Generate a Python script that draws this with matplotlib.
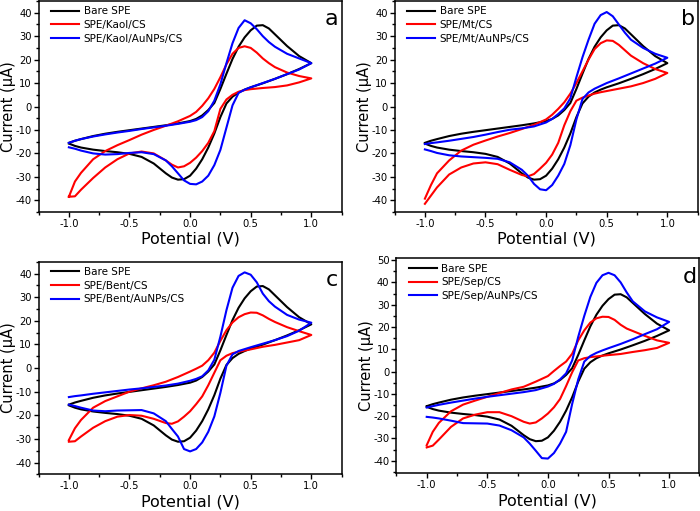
import matplotlib
matplotlib.use("Agg")
import matplotlib.pyplot as plt
from matplotlib.ticker import MultipleLocator

plt.rcParams['font.family'] = ['DejaVu Sans']
plt.rcParams['axes.unicode_minus'] = False

# potential grids (V): forward scan -1 -> 1, reverse scan 1 -> -1
E_FWD = [-1.0, -0.95, -0.9, -0.8, -0.7, -0.6, -0.5, -0.4, -0.3, -0.2, -0.1, 0.0,
         0.05, 0.1, 0.15, 0.2, 0.25, 0.3, 0.35, 0.4, 0.45, 0.5, 0.55, 0.6, 0.65,
         0.7, 0.8, 0.9, 1.0]
E_REV = [1.0, 0.9, 0.8, 0.7, 0.6, 0.5, 0.45, 0.4, 0.35, 0.3, 0.25, 0.2, 0.15, 0.1,
         0.05, 0.0, -0.05, -0.1, -0.15, -0.2, -0.3, -0.4, -0.5, -0.6, -0.7, -0.8,
         -0.9, -0.95, -1.0]

# currents (uA)
BARE_FWD = [-15.5, -14.6, -13.9, -12.6, -11.6, -10.8, -10.1, -9.4, -8.7, -8.0, -7.2, -6.2,
            -5.3, -3.8, -1.5, 1.5, 7.5, 14.0, 20.3, 25.5, 29.5, 32.5, 34.5, 34.7, 33.3,
            30.8, 25.8, 21.5, 18.5]
BARE_REV = [18.5, 16.0, 13.8, 11.8, 9.9, 8.2, 7.2, 6.0, 4.2, 1.3, -4.5, -11.5, -17.5, -22.5,
            -26.5, -29.5, -31.0, -31.2, -30.3, -28.5, -24.3, -21.5, -20.2, -19.5, -19.0, -18.4,
            -17.5, -16.8, -15.8]

KAOL_FWD = [-38.5, -32.0, -28.3, -22.5, -19.0, -16.5, -14.3, -12.0, -10.0, -8.2, -6.3, -4.0,
            -2.3, 0.3, 3.5, 7.5, 12.5, 18.0, 22.5, 25.0, 25.7, 25.0, 23.0, 20.5, 18.5,
            16.8, 14.5, 13.0, 12.0]
KAOL_REV = [12.0, 10.3, 9.0, 8.3, 7.9, 7.4, 7.0, 6.3, 5.0, 3.0, -1.0, -10.5, -15.5, -19.0,
            -21.8, -24.0, -25.5, -26.0, -24.8, -23.0, -20.0, -19.2, -20.0, -22.5, -26.0, -30.5,
            -35.5, -38.3, -38.5]
KAOL_AU_FWD = [-15.5, -14.6, -13.9, -12.8, -11.9, -11.1, -10.4, -9.6, -8.9, -8.2, -7.4, -6.5,
               -5.8, -4.5, -2.0, 2.5, 9.5, 18.5, 27.0, 33.5, 36.8, 35.5, 33.0, 30.0, 27.5,
               25.5, 22.5, 20.5, 18.5]
KAOL_AU_REV = [18.5, 15.8, 13.8, 11.8, 10.0, 8.2, 7.2, 5.8, 0.5, -9.0, -18.5, -25.0, -29.5,
               -32.0, -33.2, -33.0, -31.5, -28.5, -25.5, -23.0, -20.3, -19.5, -19.8, -20.3,
               -20.5, -20.0, -18.8, -18.0, -17.4]

MT_FWD = [-39.3, -33.5, -28.5, -23.0, -18.8, -16.3, -14.5, -12.8, -11.3, -9.6, -7.8, -5.5,
          -3.5, -1.0, 1.8, 5.5, 10.0, 15.0, 20.0, 24.5, 27.0, 28.2, 28.0, 26.3, 24.0,
          21.7, 18.5, 16.0, 14.3]
MT_REV = [14.3, 11.8, 10.0, 8.6, 7.6, 6.6, 6.1, 5.5, 4.7, 3.8, 2.5, -2.0, -8.0, -15.5,
          -20.5, -24.0, -26.5, -28.8, -29.8, -29.2, -27.0, -24.6, -23.8, -24.3, -26.0, -29.0,
          -34.5, -38.0, -41.5]
MT_AU_FWD = [-16.0, -15.6, -15.3, -14.6, -13.8, -13.0, -12.0, -10.9, -9.9, -9.3, -8.5, -6.8,
             -5.3, -3.2, -0.8, 3.5, 12.5, 21.0, 28.5, 35.3, 39.0, 40.3, 38.5, 35.0, 31.5,
             28.5, 25.0, 22.5, 20.8]
MT_AU_REV = [20.8, 18.3, 16.2, 14.1, 12.0, 10.0, 8.8, 7.6, 6.0, 3.2, -5.5, -16.5, -24.5, -29.5,
             -33.5, -35.7, -35.3, -33.0, -29.5, -27.0, -23.8, -22.3, -21.9, -21.6, -21.3, -20.8,
             -19.8, -19.0, -18.3]

BENT_FWD = [-30.5, -25.5, -22.0, -16.8, -14.0, -12.0, -10.0, -8.6, -7.3, -5.8, -3.8, -1.5,
            -0.3, 1.0, 3.3, 6.5, 11.5, 16.0, 19.3, 21.5, 22.8, 23.5, 23.4, 22.3, 20.8,
            19.5, 17.3, 15.6, 14.0]
BENT_REV = [14.0, 11.8, 10.8, 9.8, 9.0, 7.9, 7.4, 6.9, 6.3, 5.2, 3.3, -2.0, -7.3, -12.0,
            -15.3, -18.3, -20.6, -22.6, -23.6, -23.3, -21.5, -20.2, -19.9, -20.6, -22.5, -25.3,
            -29.0, -31.0, -31.2]
BENT_AU_FWD = [-12.3, -11.9, -11.6, -10.9, -10.3, -9.7, -9.1, -8.6, -8.0, -7.4, -6.6, -5.4,
               -4.6, -3.5, -1.0, 3.5, 13.3, 24.5, 34.0, 39.0, 40.5, 39.5, 36.3, 31.5, 28.3,
               26.0, 22.5, 20.5, 19.2]
BENT_AU_REV = [19.2, 15.8, 13.5, 11.8, 10.3, 8.8, 8.0, 7.2, 5.8, 1.0, -10.5, -20.5, -27.0,
               -31.5, -34.3, -35.3, -34.3, -29.0, -25.8, -22.5, -19.2, -17.8, -17.9, -18.0,
               -18.3, -18.0, -16.8, -16.1, -15.5]

SEP_FWD = [-33.0, -27.0, -23.0, -17.8, -14.8, -13.0, -11.3, -9.6, -8.0, -6.8, -4.5, -2.0,
           0.3, 2.5, 4.5, 8.0, 14.0, 18.5, 22.0, 23.9, 24.6, 24.5, 23.2, 21.0, 19.3,
           18.2, 16.0, 14.0, 12.9]
SEP_REV = [12.9, 10.6, 9.6, 8.8, 7.9, 7.4, 7.1, 6.8, 6.5, 6.0, 5.0, -0.3, -6.5, -12.3,
           -16.0, -18.8, -21.0, -22.8, -23.3, -22.5, -20.0, -18.2, -18.2, -19.3, -21.0, -24.8,
           -30.5, -33.2, -34.0]
SEP_AU_FWD = [-16.1, -15.5, -14.9, -13.9, -13.0, -12.1, -11.3, -10.6, -9.9, -9.2, -8.3, -6.7,
              -5.5, -3.5, -0.8, 5.0, 15.6, 25.0, 33.5, 39.8, 43.2, 44.3, 43.2, 40.0, 35.5,
              31.5, 27.0, 24.3, 22.3]
SEP_AU_REV = [22.3, 19.0, 16.8, 14.5, 12.4, 10.5, 9.5, 8.4, 7.0, 4.5, -3.5, -14.5, -27.0,
              -32.3, -36.5, -39.0, -38.8, -35.5, -32.3, -29.5, -26.3, -24.2, -23.3, -23.2,
              -23.1, -22.0, -21.0, -20.6, -20.3]

PANEL_LETTERS = ['a', 'b', 'c', 'd']
CLAYS = ['Kaol', 'Mt', 'Bent', 'Sep']
MOD_CURVES = [(KAOL_FWD, KAOL_REV), (MT_FWD, MT_REV), (BENT_FWD, BENT_REV), (SEP_FWD, SEP_REV)]
AU_CURVES = [(KAOL_AU_FWD, KAOL_AU_REV), (MT_AU_FWD, MT_AU_REV),
             (BENT_AU_FWD, BENT_AU_REV), (SEP_AU_FWD, SEP_AU_REV)]

fig = plt.figure(figsize=(7.0, 5.11), dpi=100)
rects = [[0.0551, 0.5851, 0.4329, 0.4129],
         [0.5637, 0.5851, 0.4329, 0.4129],
         [0.0551, 0.0718, 0.4329, 0.4160],
         [0.5663, 0.0738, 0.4329, 0.4207]]
ylims = [(-45, 45), (-45, 45), (-45, 45), (-45.6, 50.8)]

E = E_FWD + E_REV
for i in range(4):
    ax = fig.add_axes(rects[i])
    clay = CLAYS[i]
    ax.plot(E, BARE_FWD + BARE_REV, color='black', lw=1.5, label='Bare SPE')
    ax.plot(E, MOD_CURVES[i][0] + MOD_CURVES[i][1], color='#ff0000', lw=1.5,
            label=f'SPE/{clay}/CS')
    ax.plot(E, AU_CURVES[i][0] + AU_CURVES[i][1], color='#0000ff', lw=1.5,
            label=f'SPE/{clay}/AuNPs/CS')

    ax.set_xlim(-1.25, 1.25)
    ax.set_ylim(*ylims[i])
    ax.xaxis.set_major_locator(MultipleLocator(0.5))
    ax.xaxis.set_minor_locator(MultipleLocator(0.25))
    ax.yaxis.set_major_locator(MultipleLocator(10))
    ax.yaxis.set_minor_locator(MultipleLocator(5))
    ax.xaxis.set_major_formatter(matplotlib.ticker.FormatStrFormatter('%.1f'))
    ax.tick_params(which='both', direction='out', top=False, right=False, labelsize=7.2)
    ax.tick_params(which='major', length=3.5, width=1.0, pad=1.5)
    ax.tick_params(which='minor', length=2, width=1.0)
    for sp in ax.spines.values():
        sp.set_linewidth(1.1)

    ax.set_xlabel('Potential (V)', fontsize=11.5, labelpad=2)
    ax.set_ylabel('Current (μA)', fontsize=10.5)
    ax.yaxis.set_label_coords(-0.073, 0.5)
    ax.text(0.968, 0.915, PANEL_LETTERS[i], transform=ax.transAxes, fontsize=16,
            ha='center', va='center')
    ax.legend(loc='upper left', bbox_to_anchor=(0.035, 0.985), frameon=False,
              fontsize=7.5, handlelength=2.7, handletextpad=0.4, labelspacing=0.35,
              borderaxespad=0, borderpad=0.2)

plt.savefig('out.png', dpi=100)
